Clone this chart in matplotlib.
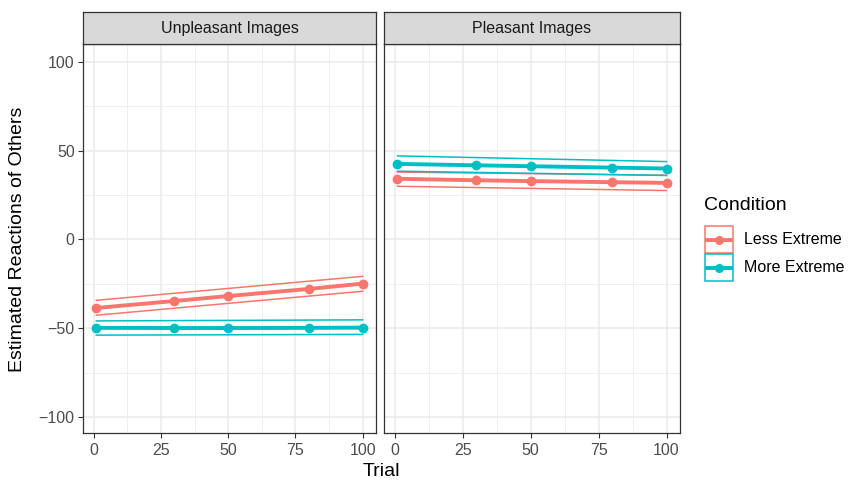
import numpy as np
import matplotlib.pyplot as plt
from matplotlib.patches import Rectangle
from matplotlib.lines import Line2D

plt.rcParams['font.family'] = ['Liberation Sans', 'DejaVu Sans']

# data
trials = [1, 30, 50, 80, 100]
panels = ["Unpleasant Images", "Pleasant Images"]
conditions = ["Less Extreme", "More Extreme"]
colors = {"Less Extreme": "#F8766D", "More Extreme": "#00BFC4"}

# estimated means at each trial
means = {
    ("Unpleasant Images", "Less Extreme"): [-38.6, -34.7, -31.9, -27.9, -24.9],
    ("Unpleasant Images", "More Extreme"): [-49.8, -49.9, -49.9, -49.8, -49.7],
    ("Pleasant Images", "Less Extreme"): [34.1, 33.3, 32.8, 32.2, 31.8],
    ("Pleasant Images", "More Extreme"): [42.5, 41.7, 41.2, 40.4, 39.9],
}
# confidence band ends (trial 1, trial 100)
band_x = [1, 100]
lower = {
    ("Unpleasant Images", "Less Extreme"): [-42.7, -29.2],
    ("Unpleasant Images", "More Extreme"): [-53.9, -53.5],
    ("Pleasant Images", "Less Extreme"): [29.9, 27.5],
    ("Pleasant Images", "More Extreme"): [38.4, 36.0],
}
upper = {
    ("Unpleasant Images", "Less Extreme"): [-34.3, -20.8],
    ("Unpleasant Images", "More Extreme"): [-45.9, -45.3],
    ("Pleasant Images", "Less Extreme"): [37.9, 36.1],
    ("Pleasant Images", "More Extreme"): [47.0, 43.8],
}

W, H = 853, 480
fig = plt.figure(figsize=(W / 100, H / 100), dpi=100)


def px_box(x0, y0, x1, y1):
    # pixel box (top-left origin) -> figure fraction rect
    return [x0 / W, (H - y1) / H, (x1 - x0) / W, (y1 - y0) / H]


panel_px = [(83, 376), (384, 680)]
top, bottom, strip_top = 44, 433, 12
grey20 = "#333333"

for i, panel in enumerate(panels):
    x0, x1 = panel_px[i]
    ax = fig.add_axes(px_box(x0, top, x1, bottom))
    ax.set_xlim(-3.95, 104.95)
    ax.set_ylim(-109, 110)
    ax.set_xticks([0, 25, 50, 75, 100])
    ax.set_xticks([12.5, 37.5, 62.5, 87.5], minor=True)
    ax.set_yticks([-100, -50, 0, 50, 100])
    ax.set_yticks([-75, -25, 25, 75], minor=True)
    ax.grid(which="major", color="#EBEBEB", lw=1.1)
    ax.grid(which="minor", color="#EBEBEB", lw=0.55)
    ax.set_axisbelow(True)
    ax.tick_params(which="minor", length=0)
    ax.tick_params(which="major", length=3.5, width=0.8, color=grey20,
                   labelcolor="#4D4D4D", labelsize=11.5, pad=2.5)
    ax.tick_params(axis="x", pad=4)
    for s in ax.spines.values():
        s.set_color(grey20)
        s.set_linewidth(0.9)
    if i > 0:
        ax.tick_params(labelleft=False, left=False)

    for cond in conditions:
        c = colors[cond]
        key = (panel, cond)
        ax.plot(band_x, lower[key], color=c, lw=1.1, zorder=2)
        ax.plot(band_x, upper[key], color=c, lw=1.1, zorder=2)
        ax.plot(trials, means[key], color=c, lw=2.8, marker="o", ms=6, zorder=3)

    # strip
    sax = fig.add_axes(px_box(x0, strip_top, x1, top))
    sax.set_xticks([])
    sax.set_yticks([])
    sax.set_facecolor("#D9D9D9")
    for s in sax.spines.values():
        s.set_color(grey20)
        s.set_linewidth(0.9)
    sax.text(0.5, 0.5, panel, ha="center", va="center", fontsize=11.5,
             color="#1A1A1A", transform=sax.transAxes)

fig.text(381 / W, 1 - 471 / H, "Trial", ha="center", va="center", fontsize=14)
fig.text(18 / W, 1 - 239 / H, "Estimated Reactions of Others", ha="center",
         va="center", rotation=90, fontsize=14)

# legend drawn in pixel units
lax = fig.add_axes(px_box(690, 190, 853, 290))
lax.set_xlim(690, 853)
lax.set_ylim(290, 190)
lax.axis("off")
lax.text(704, 205, "Condition", ha="left", va="center", fontsize=14)
for j, cond in enumerate(conditions):
    c = colors[cond]
    y0 = 226 + j * 28
    lax.add_patch(Rectangle((705, y0), 28, 27, fill=False, ec=c, lw=1.1))
    lax.add_line(Line2D([707, 731], [y0 + 13.5, y0 + 13.5], color=c, lw=2.8))
    lax.plot([719], [y0 + 13.5], marker="o", ms=5.5, color=c)
    lax.text(744, y0 + 13.5, cond, ha="left", va="center", fontsize=11.5)

fig.savefig("out.png", dpi=100)
